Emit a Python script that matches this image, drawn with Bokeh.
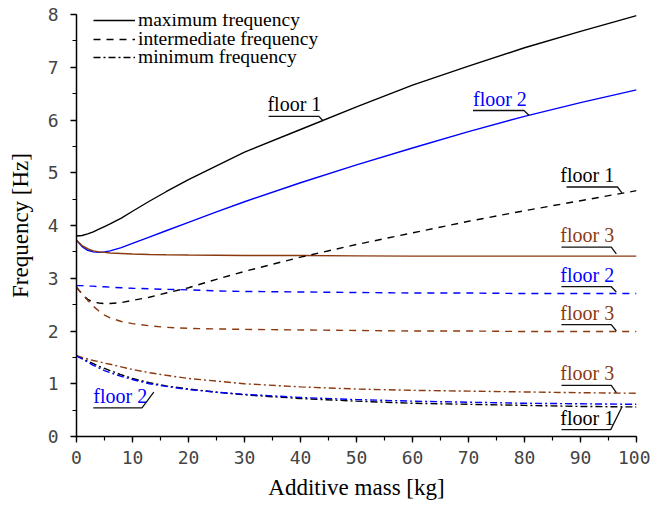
import numpy as np
from bokeh.plotting import figure
from bokeh.models import Range1d, Legend, LegendItem, SingleIntervalTicker, ColumnDataSource
from bokeh.core.properties import value
from bokeh.embed import file_html
from bokeh.resources import INLINE

# ---------------- data ----------------
mass = [0, 1, 2, 3, 4, 5, 6, 8, 10, 13, 16, 20, 25, 30, 40, 50, 60, 70, 80, 90, 100]

max_floor1 = [3.80, 3.81, 3.84, 3.88, 3.93, 3.98, 4.03, 4.14, 4.27, 4.46, 4.64, 4.87, 5.13, 5.39, 5.82, 6.25, 6.66, 7.02, 7.37, 7.68, 7.98]
max_floor2 = [3.72, 3.60, 3.53, 3.50, 3.49, 3.50, 3.52, 3.58, 3.66, 3.78, 3.90, 4.06, 4.26, 4.45, 4.81, 5.15, 5.47, 5.78, 6.07, 6.33, 6.57]
max_floor3 = [3.72, 3.62, 3.56, 3.52, 3.50, 3.49, 3.48, 3.47, 3.46, 3.45, 3.445, 3.44, 3.435, 3.43, 3.43, 3.425, 3.42, 3.42, 3.42, 3.42, 3.42]

int_floor1 = [2.83, 2.70, 2.60, 2.55, 2.53, 2.52, 2.52, 2.54, 2.58, 2.64, 2.72, 2.82, 2.98, 3.13, 3.40, 3.64, 3.86, 4.08, 4.28, 4.47, 4.66]
int_floor2 = [2.86, 2.86, 2.85, 2.85, 2.84, 2.84, 2.83, 2.82, 2.81, 2.80, 2.79, 2.78, 2.76, 2.75, 2.74, 2.73, 2.72, 2.72, 2.71, 2.71, 2.71]
int_floor3 = [2.83, 2.70, 2.58, 2.47, 2.38, 2.30, 2.25, 2.18, 2.14, 2.10, 2.07, 2.05, 2.04, 2.03, 2.02, 2.01, 2.00, 2.00, 1.99, 1.99, 1.99]

min_floor1 = [1.53, 1.48, 1.43, 1.38, 1.33, 1.29, 1.25, 1.17, 1.10, 1.02, 0.96, 0.90, 0.84, 0.79, 0.72, 0.67, 0.63, 0.61, 0.59, 0.57, 0.56]
min_floor2 = [1.53, 1.47, 1.41, 1.35, 1.30, 1.25, 1.21, 1.14, 1.08, 1.00, 0.95, 0.89, 0.84, 0.80, 0.74, 0.70, 0.67, 0.65, 0.63, 0.62, 0.61]
min_floor3 = [1.53, 1.50, 1.47, 1.44, 1.42, 1.39, 1.37, 1.32, 1.27, 1.21, 1.16, 1.10, 1.05, 1.00, 0.94, 0.90, 0.875, 0.86, 0.845, 0.83, 0.82]

x_ticks = [0, 10, 20, 30, 40, 50, 60, 70, 80, 90, 100]
y_ticks = [0, 1, 2, 3, 4, 5, 6, 7, 8]
legend_labels = ["maximum frequency", "intermediate frequency", "minimum frequency"]

# annotation labels (text, colour, text x, underline x0/x1/y, leader tip x/y) in data units
ann_text = ["floor 1", "floor 2", "floor 1", "floor 3", "floor 2", "floor 3", "floor 3", "floor 1", "floor 2"]
ann_kind = ["k", "b", "k", "r", "b", "r", "r", "k", "b"]
ann_text_x = [34.1, 70.8, 86.4, 86.4, 86.4, 86.4, 86.4, 86.4, 3.0]
ann_ul_x0 = [34.3, 70.8, 87.5, 86.6, 86.6, 86.6, 86.6, 86.6, 3.0]
ann_ul_x1 = [43.3, 79.9, 96.6, 95.5, 95.5, 95.5, 95.5, 95.4, 11.7]
ann_ul_y = [6.07, 6.18, 4.73, 3.59, 2.84, 2.12, 0.97, 0.13, 0.544]
ann_tip_x = [44.05, 80.8, 97.4, 96.4, 96.4, 96.4, 96.4, 97.4, 13.8]
ann_tip_y = [5.98, 6.09, 4.62, 3.46, 2.74, 2.00, 0.83, 0.56, 0.84]

# ---------------- styles ----------------
BLACK = "#000000"
BLUE = "#0000ff"
BROWN = "#8b3a10"
col = {"k": BLACK, "b": BLUE, "r": BROWN}
SERIF = "Liberation Serif"
DASH = "7 6"
DASHDOT = "7 3 2 3"
LW = 1.4

p = figure(width=650, height=506, output_backend="svg", toolbar_location=None,
           x_range=Range1d(0, 100), y_range=Range1d(0, 8),
           min_border_left=76, min_border_right=14, min_border_top=14, min_border_bottom=70)
p.outline_line_color = None
p.grid.visible = False
p.background_fill_color = "white"

# curves
r_max1 = p.line(mass, max_floor1, line_color=BLACK, line_width=LW)
p.line(mass, max_floor2, line_color=BLUE, line_width=LW)
p.line(mass, max_floor3, line_color=BROWN, line_width=LW)

r_int1 = p.line(mass, int_floor1, line_color=BLACK, line_width=LW, line_dash=DASH)
p.line(mass, int_floor2, line_color=BLUE, line_width=LW, line_dash=DASH)
p.line(mass, int_floor3, line_color=BROWN, line_width=LW, line_dash=DASH)

r_min1 = p.line(mass, min_floor1, line_color=BLACK, line_width=LW, line_dash=DASHDOT)
p.line(mass, min_floor3, line_color=BROWN, line_width=LW, line_dash=DASHDOT)
p.line(mass, min_floor2, line_color=BLUE, line_width=LW, line_dash=DASHDOT)

# annotation leaders
xs = [[a, b, c] for a, b, c in zip(ann_ul_x0, ann_ul_x1, ann_tip_x)]
ys = [[u, u, t] for u, t in zip(ann_ul_y, ann_tip_y)]
p.multi_line(xs, ys, line_color="#111111", line_width=1.3)

src = ColumnDataSource(dict(x=ann_text_x, y=ann_ul_y, t=ann_text,
                            c=[col[k] for k in ann_kind]))
p.text(x="x", y="y", text="t", text_color="c", source=src,
       text_font=value(SERIF), text_font_size="20px",
       text_baseline="bottom", text_align="left", y_offset=-1)

# axes
for ax in (p.xaxis[0], p.yaxis[0]):
    ax.axis_line_width = 1.5
    ax.axis_line_color = "black"
    ax.major_tick_in = 0
    ax.major_tick_out = 6
    ax.minor_tick_in = 0
    ax.minor_tick_out = 4
    ax.major_tick_line_width = 1.3
    ax.minor_tick_line_width = 1.2
    ax.major_label_text_font = "DejaVu Sans Mono"
    ax.major_label_text_font_size = "18px"
    ax.major_label_text_color = "#444444"
    ax.axis_label_text_font = SERIF
    ax.axis_label_text_font_size = "23px"
    ax.axis_label_text_font_style = "normal"
    ax.axis_label_text_color = "black"

p.xaxis[0].ticker = SingleIntervalTicker(interval=10, num_minor_ticks=2)
p.yaxis[0].ticker = SingleIntervalTicker(interval=1, num_minor_ticks=2)
p.xaxis[0].major_label_overrides = {t: str(t) for t in x_ticks}
p.yaxis[0].major_label_overrides = {t: str(t) for t in y_ticks}
p.xaxis[0].axis_label = "Additive mass [kg]"
p.yaxis[0].axis_label = "Frequency [Hz]"
p.xaxis[0].major_label_standoff = 8
p.yaxis[0].major_label_standoff = 12
p.xaxis[0].axis_label_standoff = 8
p.yaxis[0].axis_label_standoff = 12

# legend: one single-item legend per row so the row spacing matches
legend_renderers = [r_max1, r_int1, r_min1]
legend_rows_y = [405, 386.5, 368]
for lab, rend, ly in zip(legend_labels, legend_renderers, legend_rows_y):
    lg = Legend(items=[LegendItem(label=lab, renderers=[rend])],
                location=(17, ly), padding=0, margin=0, spacing=0,
                glyph_width=42, glyph_height=16, label_height=16, label_standoff=3,
                label_text_font=SERIF, label_text_font_size="19.5px",
                label_text_color="black",
                background_fill_alpha=0, border_line_color=None)
    p.add_layout(lg)

open("out.html", "w").write(file_html(p, INLINE))
